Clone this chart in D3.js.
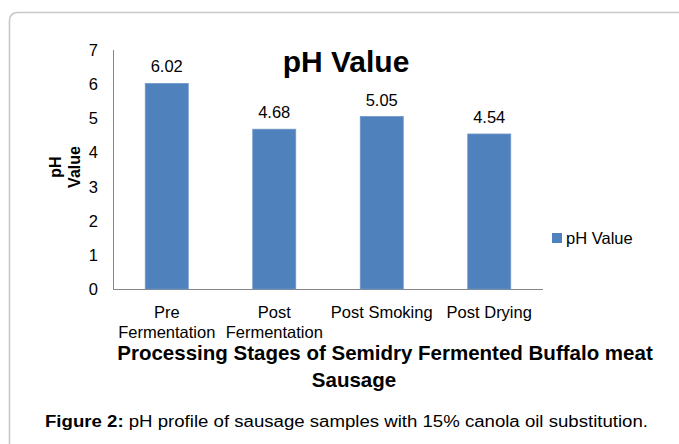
<!DOCTYPE html>
<html>
<head>
<meta charset="utf-8">
<script src="https://cdn.jsdelivr.net/npm/d3@7"></script>
<style>
  body { margin: 0; background: #fff; }
  svg { display: block; font-family: "Liberation Sans", Arial, sans-serif; }
</style>
</head>
<body>
<svg id="chart" width="679" height="444"></svg>
<script>
// chart data
var categories = ["Pre Fermentation", "Post Fermentation", "Post Smoking", "Post Drying"];
var catLines = [["Pre", "Fermentation"], ["Post", "Fermentation"], ["Post Smoking"], ["Post Drying"]];
var phValues = [6.02, 4.68, 5.05, 4.54];
var yTicks = [0, 1, 2, 3, 4, 5, 6, 7];

var svg = d3.select("#chart");

// outer frame (rounded top-left corner, runs off the right and bottom)
svg.append("path")
  .attr("d", "M9.5,444 L9.5,21 Q9.5,12.5 18,12.5 L679,12.5")
  .attr("fill", "none")
  .attr("stroke", "#c8c8c8")
  .attr("stroke-width", 1.6);

var x = d3.scaleBand()
  .domain(categories)
  .range([113, 543])
  .paddingInner(0.6)
  .paddingOuter(0.3);

var y = d3.scaleLinear()
  .domain([0, 7])
  .range([289, 50]);

// axes lines
svg.append("line")
  .attr("x1", 113.5).attr("x2", 113.5)
  .attr("y1", y(7)).attr("y2", y(0))
  .attr("stroke", "#868686");
svg.append("line")
  .attr("x1", 113).attr("x2", 543)
  .attr("y1", y(0) + 0.5).attr("y2", y(0) + 0.5)
  .attr("stroke", "#868686");

// y tick labels
svg.selectAll(".ytick")
  .data(yTicks)
  .enter().append("text")
  .attr("class", "ytick")
  .attr("x", 98)
  .attr("y", function(d) { return y(d) + 6; })
  .attr("text-anchor", "end")
  .style("font-size", "16.5px")
  .text(function(d) { return d; });

// bars
svg.selectAll(".bar")
  .data(phValues)
  .enter().append("rect")
  .attr("class", "bar")
  .attr("x", function(d, i) { return x(categories[i]); })
  .attr("y", function(d) { return y(d); })
  .attr("width", x.bandwidth())
  .attr("height", function(d) { return y(0) - y(d); })
  .attr("fill", "#4f81bd")
  .attr("stroke", "#6d96c9")
  .attr("stroke-width", 0.8);

// value labels
svg.selectAll(".val")
  .data(phValues)
  .enter().append("text")
  .attr("class", "val")
  .attr("x", function(d, i) { return x(categories[i]) + x.bandwidth() / 2; })
  .attr("y", function(d) { return y(d) - 11; })
  .attr("text-anchor", "middle")
  .style("font-size", "16.5px")
  .text(function(d) { return d.toFixed(2); });

// x category labels
var xl = svg.selectAll(".xlab")
  .data(catLines)
  .enter().append("text")
  .attr("class", "xlab")
  .attr("text-anchor", "middle")
  .style("font-size", "16.5px");
xl.selectAll("tspan")
  .data(function(d, i) { return d.map(function(t) { return { t: t, c: categories[i] }; }); })
  .enter().append("tspan")
  .attr("x", function(d) { return x(d.c) + x.bandwidth() / 2; })
  .attr("y", function(d, j) { return 318 + j * 20; })
  .text(function(d) { return d.t; });

// chart title
svg.append("text")
  .attr("x", 346)
  .attr("y", 72)
  .attr("text-anchor", "middle")
  .style("font-size", "30px")
  .style("font-weight", "bold")
  .text("pH Value");

// y axis title
var yt = svg.append("text")
  .attr("transform", "translate(0,167) rotate(-90)")
  .attr("text-anchor", "middle")
  .style("font-size", "16px")
  .style("font-weight", "bold");
yt.append("tspan").attr("x", 0).attr("y", 61).text("pH");
yt.append("tspan").attr("x", 0).attr("y", 80).text("Value");

// x axis title
svg.append("text")
  .attr("x", 385)
  .attr("y", 360)
  .attr("text-anchor", "middle")
  .style("font-size", "20.5px")
  .style("font-weight", "bold")
  .text("Processing Stages of Semidry Fermented Buffalo meat");
svg.append("text")
  .attr("x", 354)
  .attr("y", 387)
  .attr("text-anchor", "middle")
  .style("font-size", "20.5px")
  .style("font-weight", "bold")
  .text("Sausage");

// legend
svg.append("rect")
  .attr("x", 552).attr("y", 233)
  .attr("width", 10).attr("height", 10)
  .attr("fill", "#4f81bd");
svg.append("text")
  .attr("x", 566)
  .attr("y", 244)
  .style("font-size", "16.5px")
  .text("pH Value");

// caption
var cap = svg.append("text")
  .attr("x", 45)
  .attr("y", 427)
  .attr("textLength", 603)
  .attr("lengthAdjust", "spacingAndGlyphs")
  .style("font-size", "16px");
cap.append("tspan").style("font-weight", "bold").text("Figure 2:");
cap.append("tspan").text(" pH profile of sausage samples with 15% canola oil substitution.");
</script>
</body>
</html>
